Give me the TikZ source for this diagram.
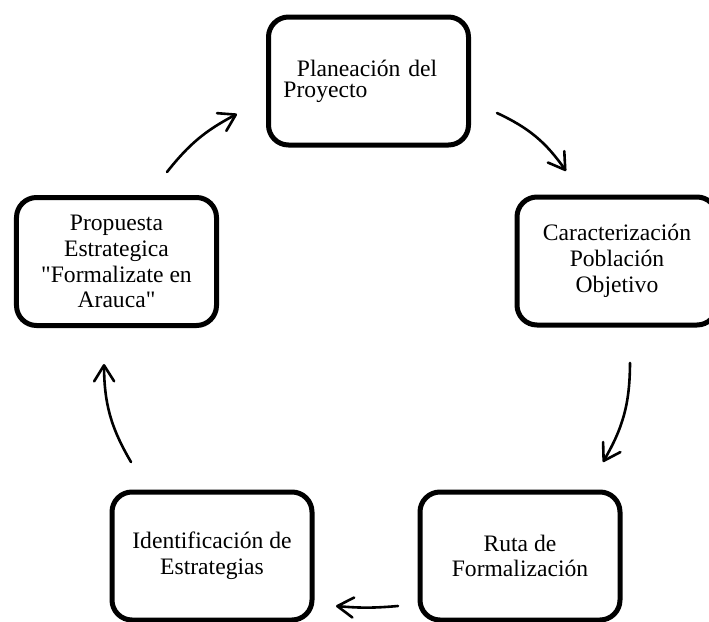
\documentclass[tikz,border=0pt]{standalone}
\usepackage{fontspec}
\setmainfont{Liberation Serif}
\usetikzlibrary{arrows.meta}
\tikzset{
  etapa/.style={draw, line width=2.5pt, rounded corners=10pt,
    minimum width=100pt, minimum height=64pt, inner sep=0pt,
    align=center, font=\fontsize{11.8}{12.9}\selectfont},
  flecha/.style={line width=1.3pt, line cap=round,
    -{Straight Barb[length=8pt,width=10pt,round]}, bend left=15}
}
\begin{document}
\begin{tikzpicture}[x=0.5pt, y=-0.5pt]
  \useasboundingbox (0,0) rectangle (709,622);
  \node[etapa, text width=85pt, align=left, font=\fontsize{11.8}{10.5}\selectfont] (plan) at (368.5,81) {\hspace*{6.7pt}Planeación del\\Proyecto};
  \node[etapa] (carac) at (617,261) {Caracterización\\Población\\Objetivo};
  \node[etapa] (ruta) at (520,556) {Ruta de\\Formalización};
  \node[etapa] (ident) at (212,556) {Identificación de\\Estrategias};
  \node[etapa] (prop) at (116.5,261.5) {Propuesta\\Estrategica\\\textquotedbl Formalizate en\\Arauca\textquotedbl};
  \coordinate (f1a) at (497,113);
  \coordinate (f1b) at (566,171);
  \coordinate (f2a) at (630,363);
  \coordinate (f2b) at (603,462);
  \coordinate (f3a) at (398,606);
  \coordinate (f3b) at (336,606);
  \coordinate (f4a) at (131,462);
  \coordinate (f4b) at (104,364);
  \coordinate (f5a) at (167,172);
  \coordinate (f5b) at (237,114);
  \draw[flecha] (f1a) to (f1b);
  \draw[flecha] (f2a) to (f2b);
  \draw[flecha, bend left=5] (f3a) to (f3b);
  \draw[flecha] (f4a) to (f4b);
  \draw[flecha, bend left=12] (f5a) to (f5b);
\end{tikzpicture}
\end{document}
